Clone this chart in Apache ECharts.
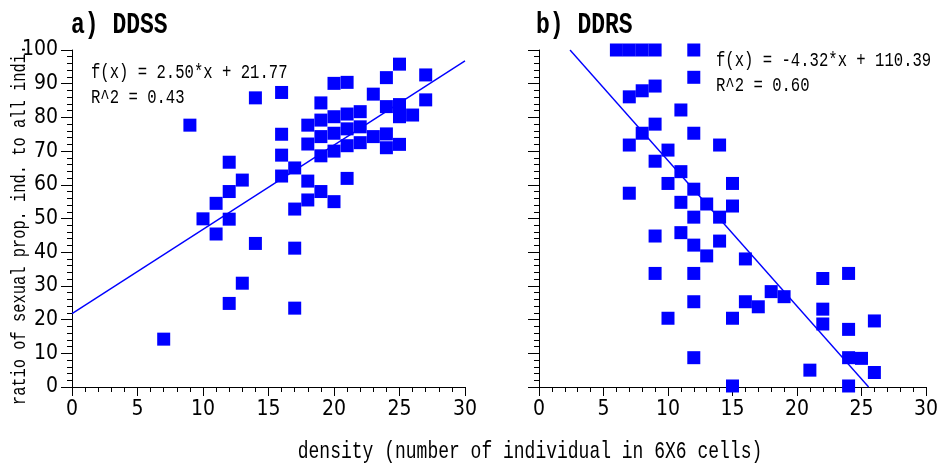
<!DOCTYPE html>
<html>
<head>
<meta charset="utf-8">
<script src="https://cdn.jsdelivr.net/npm/echarts@6/dist/echarts.min.js"></script>
<style>
  html, body { margin: 0; padding: 0; background: #fff; }
  #chart { width: 941px; height: 463px; }
</style>
</head>
<body>
<div id="chart"></div>
<script>
// a) DDSS: density vs. ratio of sexual proportion
const ddssDensity = [7, 9, 10, 11, 11, 12, 12, 12, 12, 13, 13, 14, 14, 16, 16, 16, 16, 17, 17, 17, 17,
  18, 18, 18, 18, 19, 19, 19, 19, 19, 20, 20, 20, 20, 20, 21, 21, 21, 21, 21, 22, 22, 22, 23, 23,
  24, 24, 24, 24, 25, 25, 25, 25, 26, 27, 27];
const ddssRatio = [14.2, 77.7, 49.9, 54.5, 45.4, 66.7, 58, 49.8, 24.8, 61.4, 30.8, 85.8, 42.6, 87.4, 75, 68.8, 62.6, 65, 52.8, 41.2, 23.4,
  77.7, 72.1, 61.1, 55.5, 84.3, 79.2, 74.3, 68.6, 58, 90.1, 80.2, 75.3, 70, 55, 90.4, 81, 76.6, 71.6, 61.9, 81.7, 77.2, 72.5, 86.9, 74.3,
  91.8, 83.2, 75.1, 71, 95.8, 83.8, 80.2, 72, 80.7, 92.6, 85.2];
const ddssFit = { slope: 2.50, intercept: 21.77, r2: 0.43 };

// b) DDRS
const ddrsDensity = [6, 7, 8, 9, 12, 12, 9, 8, 7, 11, 9, 8, 12, 7, 14, 10, 9, 11, 10, 12, 15, 7, 11, 13, 15,
  12, 14, 9, 11, 12, 14, 13, 16, 9, 12, 22, 24, 18, 19, 12, 16, 17, 22, 22, 10, 15, 24, 26, 12, 24, 25,
  21, 26, 15, 24];
const ddrsRatio = [100, 100, 100, 100, 100, 91.9, 89.3, 87.9, 86.1, 82.2, 78, 75.3, 75.3, 71.8, 71.8, 70.3, 67, 63.9, 60.4, 58.7, 60.4, 57.5, 54.8, 54.3, 53.7,
  50.4, 50.4, 44.8, 45.8, 42.1, 43.3, 38.9, 38, 33.7, 33.7, 32.2, 33.7, 28.3, 26.8, 25.3, 25.3, 23.8, 23.1, 18.7, 20.4, 20.4, 17.1, 19.6, 8.7, 8.7, 8.5,
  5, 4.3, 0.3, 0.3];
const ddrsFit = { slope: -4.32, intercept: 110.39, r2: 0.60 };

const panelTitles = ['a) DDSS', 'b) DDRS'];
const xName = 'density (number of individual in 6X6 cells)';
const yName = 'ratio of sexual prop. ind. to all indi.';
const xRange = [0, 30], yRange = [0, 100];

const BLUE = '#0000ff';
const MONO = "'Liberation Mono', 'DejaVu Sans Mono', monospace";
const NARROW = "'Liberation Sans Narrow', 'DejaVu Sans Condensed', sans-serif";

function zip(xs, ys) { return xs.map((x, i) => [x, ys[i]]); }

// Regression line clipped to the plotting window
function fitLine(fit) {
  let x0 = xRange[0], x1 = xRange[1];
  const yAt = x => fit.slope * x + fit.intercept;
  const xAt = y => (y - fit.intercept) / fit.slope;
  if (yAt(x0) > yRange[1]) x0 = xAt(yRange[1]);
  if (yAt(x0) < yRange[0]) x0 = xAt(yRange[0]);
  if (yAt(x1) > yRange[1]) x1 = xAt(yRange[1]);
  if (yAt(x1) < yRange[0]) x1 = xAt(yRange[0]);
  return [[x0, yAt(x0)], [x1, yAt(x1)]];
}

function fmtFit(fit) {
  return ['f(x) = ' + fit.slope.toFixed(2) + '*x + ' + fit.intercept.toFixed(2),
          'R^2 = ' + fit.r2.toFixed(2)];
}

function xAxisCfg(idx) {
  return {
    gridIndex: idx, type: 'value', min: xRange[0], max: xRange[1], interval: 5,
    axisLine: { show: true, onZero: false, lineStyle: { color: '#000', width: 1 } },
    axisTick: { show: true, length: 9, lineStyle: { color: '#000' } },
    minorTick: { show: true, splitNumber: 5, length: 5, lineStyle: { color: '#000' } },
    splitLine: { show: false },
    axisLabel: { color: '#000', fontFamily: NARROW, fontSize: 21, margin: 12 }
  };
}
function yAxisCfg(idx, labels) {
  return {
    gridIndex: idx, type: 'value', min: yRange[0], max: yRange[1], interval: 10,
    axisLine: { show: true, onZero: false, lineStyle: { color: '#000', width: 1 } },
    axisTick: { show: true, length: 11, lineStyle: { color: '#000' } },
    minorTick: { show: true, splitNumber: 5, length: 5, lineStyle: { color: '#000' } },
    splitLine: { show: false },
    axisLabel: { show: labels, color: '#000', fontFamily: NARROW, fontSize: 21, margin: 14 }
  };
}

function scatterSeries(idx, data) {
  return {
    type: 'scatter', xAxisIndex: idx, yAxisIndex: idx, data: data,
    symbol: 'rect', symbolSize: 13, clip: false, z: 3,
    itemStyle: { color: BLUE, opacity: 1 },
    emphasis: { disabled: true }, silent: true
  };
}
function lineSeries(idx, fit) {
  return {
    type: 'line', xAxisIndex: idx, yAxisIndex: idx, data: fitLine(fit),
    showSymbol: false, symbol: 'none', z: 2,
    lineStyle: { color: BLUE, width: 1.4 }, silent: true
  };
}

function textEl(text, x, y, font, sy, align, rotation) {
  return {
    type: 'text', x: x, y: y, scaleY: sy, rotation: rotation || 0, silent: true,
    style: { text: text, font: font, fill: '#000', verticalAlign: 'middle', align: align || 'left' }
  };
}

const fitA = fmtFit(ddssFit), fitB = fmtFit(ddrsFit);

const chart = echarts.init(document.getElementById('chart'), null, { renderer: 'canvas' });
chart.setOption({
  animation: false,
  backgroundColor: '#fff',
  grid: [
    { left: 72, top: 50, width: 393, height: 337 },
    { left: 539, top: 50, width: 392, height: 337 }
  ],
  xAxis: [xAxisCfg(0), xAxisCfg(1)],
  yAxis: [yAxisCfg(0, true), yAxisCfg(1, false)],
  series: [
    lineSeries(0, ddssFit),
    scatterSeries(0, zip(ddssDensity, ddssRatio)),
    lineSeries(1, ddrsFit),
    scatterSeries(1, zip(ddrsDensity, ddrsRatio))
  ],
  graphic: [
    textEl(panelTitles[0], 71, 25, 'bold 23px ' + MONO, 1.3),
    textEl(panelTitles[1], 536, 25, 'bold 23px ' + MONO, 1.3),
    textEl(fitA[0], 91, 72, '15.6px ' + MONO, 1.35),
    textEl(fitA[1], 91, 97, '15.6px ' + MONO, 1.35),
    textEl(fitB[0], 716, 60, '15.6px ' + MONO, 1.35),
    textEl(fitB[1], 716, 85, '15.6px ' + MONO, 1.35),
    textEl(yName, 20, 225, '15.4px ' + MONO, 1.3, 'center', Math.PI / 2),
    textEl(xName, 530, 452, '18px ' + MONO, 1.3, 'center')
  ]
});
</script>
</body>
</html>
